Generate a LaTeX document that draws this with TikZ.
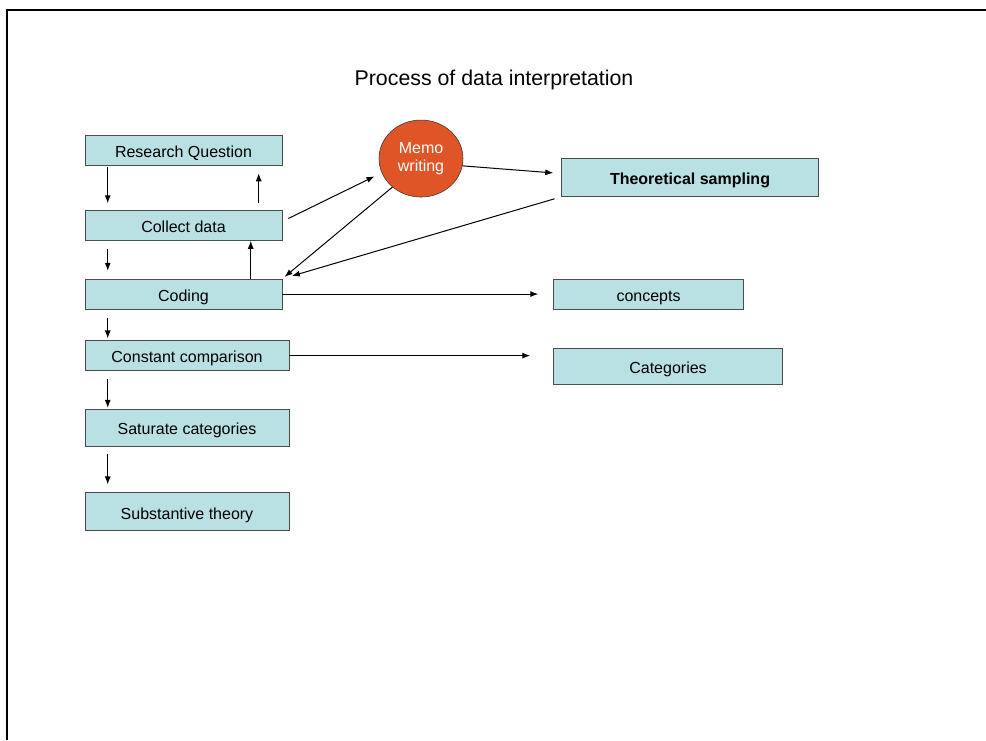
\documentclass[tikz,border=0pt]{standalone}
\usepackage{fontspec}
\setmainfont{Liberation Sans}
\usepackage{xcolor}
\usepackage{tikz}
\usetikzlibrary{shapes,arrows.meta,positioning}

\definecolor{boxcyan}{RGB}{185,224,227}
\definecolor{memored}{RGB}{224,85,40}

\begin{document}
\begin{tikzpicture}[
    x=0.75pt, y=-0.75pt,
    block/.style={rectangle, draw=black!70, fill=boxcyan, minimum width=147.75pt, minimum height=22.5pt, inner sep=0pt, text height=11pt, text depth=0pt, font=\fontsize{12}{14}\selectfont},
    wide/.style={minimum width=153pt},
    memo/.style={ellipse, draw=black!80, fill=memored, text=white, minimum width=63pt, minimum height=57.75pt, inner sep=0pt, align=center, font=\fontsize{12}{13.5}\selectfont},
    arrow/.style={line width=0.75pt,->,>={Latex[length=6pt,width=4.5pt]}}
]
    \useasboundingbox (0,0) rectangle (986,740);
    \draw[line width=1.5pt] (7,740) -- (7,10) -- (986,10);

    \node[font=\fontsize{16}{19}\selectfont] (title) at (494,80) {Process of data interpretation};

    \node[block] (rq) at (183.5,150) {Research Question};
    \node[block, below=33.75pt of rq] (collect) {Collect data};
    \node[block, below=28.5pt of collect] (coding) {Coding};
    \node[block, wide, below=23.25pt of coding.south west, anchor=north west] (constant) {Constant comparison};
    \node[block, wide, minimum height=27.75pt, below=28.5pt of constant] (saturate) {Saturate categories};
    \node[block, wide, minimum height=28.5pt, below=34.5pt of saturate] (theory) {Substantive theory};

    \node[block, minimum width=142.5pt, right=203.25pt of coding] (concepts) {concepts};
    \node[block, minimum width=171.75pt, minimum height=27pt, below=29.25pt of concepts.south west, anchor=north west] (categories) {Categories};
    \node[block, minimum width=192.75pt, minimum height=28.5pt, font=\fontsize{12}{14}\selectfont\bfseries, above=61.5pt of concepts.north west, anchor=south west, xshift=6pt] (sampling) {Theoretical sampling};
    \node[memo, left=73.5pt of sampling, yshift=14.25pt] (memo) {Memo\\writing};

    % down the left column
    \draw[arrow, shorten <=1.5pt, shorten >=5.25pt] ([xshift=17.25pt]rq.south west) -- ([xshift=17.25pt]collect.north west);
    \draw[arrow, shorten <=5.25pt, shorten >=6pt] ([xshift=130.5pt]collect.north west) -- ([xshift=130.5pt]rq.south west);
    \draw[arrow, shorten <=6pt, shorten >=6pt] ([xshift=17.25pt]collect.south west) -- ([xshift=17.25pt]coding.north west);
    \draw[arrow] ([xshift=124.5pt]coding.north west) -- ([xshift=124.5pt]collect.south west);
    \draw[arrow, shorten <=6.75pt, shorten >=1.5pt] ([xshift=17.25pt]coding.south west) -- ([xshift=17.25pt]constant.north west);
    \draw[arrow, shorten <=6pt, shorten >=0.75pt] ([xshift=17.25pt]constant.south west) -- ([xshift=17.25pt]saturate.north west);
    \draw[arrow, shorten <=6pt, shorten >=6pt] ([xshift=17.25pt]saturate.south west) -- ([xshift=17.25pt]theory.north west);

    % memo loop
    \draw[arrow, shorten >=6pt] ([xshift=4.5pt,yshift=5.25pt]collect.east) -- (memo.200);
    \draw[arrow, shorten >=2.25pt] (memo.225) -- (coding.north east);
    \draw[arrow, shorten >=6pt] (memo.-10) -- ([yshift=3pt]sampling.west);
    \draw[arrow, shorten <=5.25pt, shorten >=7.5pt] (sampling.south west) -- (coding.north east);

    % results
    \draw[arrow, shorten >=11.25pt] (coding) -- (concepts);
    \draw[arrow, shorten >=17.25pt] (constant.east) -- (constant.east -| categories.west);
\end{tikzpicture}
\end{document}
